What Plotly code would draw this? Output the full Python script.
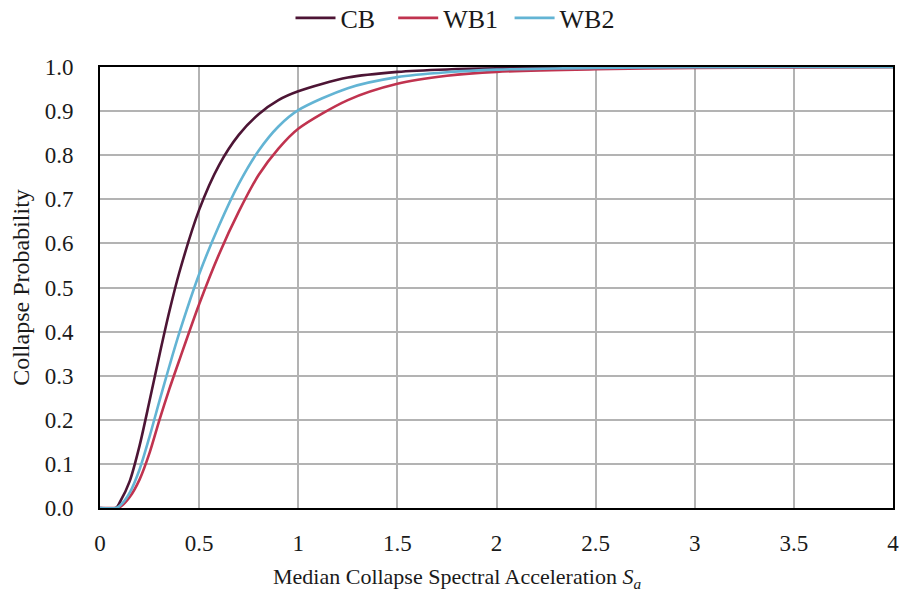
import plotly.graph_objects as go

# Data
sa_x = [0, 0.08, 0.1, 0.15, 0.2, 0.25, 0.3, 0.35, 0.4, 0.5, 0.6, 0.7, 0.8, 0.9, 1.0, 1.25, 1.5, 1.75, 2.0, 2.5, 3.0, 3.5, 4.0]

cb_y  = [0, 0, 0.013, 0.061, 0.142, 0.243, 0.347, 0.446, 0.534, 0.676, 0.777, 0.846, 0.893, 0.925, 0.945, 0.976, 0.989, 0.9945, 0.997, 0.999, 1.0, 1.0, 1.0]
wb1_y = [0, 0, 0.002, 0.025, 0.065, 0.125, 0.2, 0.27, 0.335, 0.462, 0.575, 0.672, 0.755, 0.815, 0.86, 0.925, 0.962, 0.98, 0.989, 0.995, 0.998, 0.999, 1.0]
wb2_y = [0, 0, 0.005, 0.035, 0.088, 0.162, 0.243, 0.322, 0.397, 0.53, 0.64, 0.735, 0.81, 0.865, 0.902, 0.952, 0.977, 0.988, 0.994, 0.998, 0.9995, 1.0, 1.0]

x_ticks = [0, 0.5, 1, 1.5, 2, 2.5, 3, 3.5, 4]
x_labels = ["0", "0.5", "1", "1.5", "2", "2.5", "3", "3.5", "4"]
y_ticks = [0.0, 0.1, 0.2, 0.3, 0.4, 0.5, 0.6, 0.7, 0.8, 0.9, 1.0]
y_labels = [f"{v:.1f}" for v in y_ticks]

series = [
    ("CB", cb_y, "#4d1535", "\u00a0\u00a0"),
    ("WB1", wb1_y, "#c0334f", "\u00a0"),
    ("WB2", wb2_y, "#63b4d4", ""),
]

FONT = "Liberation Serif"
TXT = "#1a1a1a"

fig = go.Figure()
for name, ys, col, pad in series:
    fig.add_trace(go.Scatter(
        x=sa_x, y=ys, name=name + pad, mode="lines",
        line=dict(color=col, width=2.6, shape="spline", smoothing=0.8),
    ))

fig.add_annotation(
    text="Median Collapse Spectral Acceleration <i>S<sub>a</sub></i>",
    xref="paper", yref="paper", x=0.45, y=-0.159,
    xanchor="center", yanchor="middle", showarrow=False,
    font=dict(family=FONT, size=22, color=TXT),
)

fig.update_layout(
    width=901, height=594,
    margin=dict(l=100, r=8, t=67, b=86),
    paper_bgcolor="white", plot_bgcolor="white",
    font=dict(family=FONT, size=23, color=TXT),
    showlegend=True,
    legend=dict(
        orientation="h", x=0.505, xanchor="center", xref="container",
        y=0.9697, yanchor="middle", yref="container",
        font=dict(family=FONT, size=26, color=TXT),
        itemwidth=40, tracegroupgap=0, bgcolor="rgba(0,0,0,0)",
    ),
    xaxis=dict(
        range=[0, 4], tickvals=x_ticks, ticktext=x_labels, automargin=False,
        showgrid=True, gridcolor="#b3b3b3", gridwidth=2,
        showline=True, linecolor="black", linewidth=2, mirror=True,
        ticks="", ticklabelstandoff=13, zeroline=False,
        tickfont=dict(family=FONT, size=23, color=TXT),
    ),
    yaxis=dict(
        range=[0, 1], tickvals=y_ticks, ticktext=y_labels, automargin=False,
        showgrid=True, gridcolor="#b3b3b3", gridwidth=2,
        showline=True, linecolor="black", linewidth=2, mirror=True,
        ticks="", ticklabelstandoff=20, zeroline=False,
        tickfont=dict(family=FONT, size=23, color=TXT),
        title=dict(text="Collapse Probability",
                   font=dict(family=FONT, size=24, color=TXT), standoff=8),
    ),
)

fig.write_html("out.html")
